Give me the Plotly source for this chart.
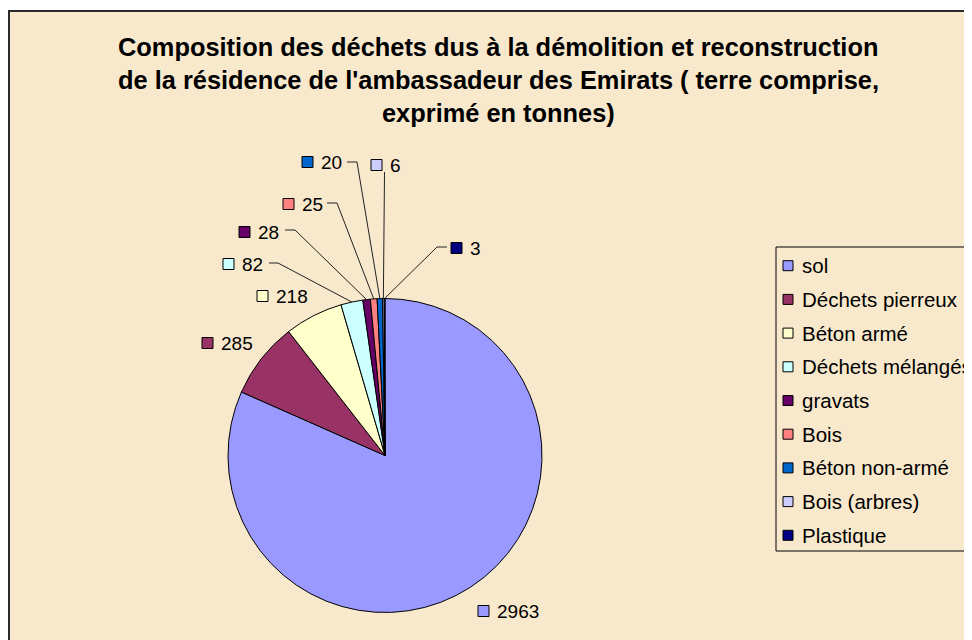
import math
import plotly.graph_objects as go

# ---- data ----
categories = ["sol", "Déchets pierreux", "Béton armé", "Déchets mélangés", "gravats",
              "Bois", "Béton non-armé", "Bois (arbres)", "Plastique"]
values = [2963, 285, 218, 82, 28, 25, 20, 6, 3]
colors = ["#9999FF", "#993366", "#FFFFCC", "#CCFFFF", "#660066",
          "#FF8080", "#0066CC", "#CCCCFF", "#000080"]
title_lines = ["Composition des déchets dus à la démolition et reconstruction",
               "de la résidence de l'ambassadeur des Emirats ( terre comprise,",
               "exprimé en tonnes)"]

# ---- layout constants (screen pixels; page body has an 8px margin) ----
W, H = 972, 640
OX, OY = 8, 8
CX, CY, R = 385, 455.5, 157
FONT = "Liberation Sans, Arial, sans-serif"
BG = "#F8E9CD"

# data-label placement (marker left x, centre y) and leader elbows
label_pos = [(478, 611), (202, 343), (257, 296), (223, 264), (239, 232),
             (283, 204), (302, 162), (371, 165), (451, 248)]
leader_elbows = {3: [(269, 263), (278, 263)],
                 4: [(285, 230), (295, 230)],
                 5: [(327, 203), (337, 203)],
                 6: [(347, 162), (357, 162)],
                 7: [(384.5, 172)],
                 8: [(447, 247), (437, 247)]}


def px(x):
    return (x - OX) / W


def py(y):
    return 1 - (y - OY) / H


fig = go.Figure()
fig.add_trace(go.Pie(
    labels=categories, values=values, sort=False, direction="clockwise", rotation=0,
    marker=dict(colors=colors, line=dict(color="black", width=1)),
    textinfo="none", showlegend=False, hoverinfo="label+value",
    domain=dict(x=[px(CX - R), px(CX + R)], y=[py(CY + R), py(CY - R)]),
))

shapes = []
annotations = []

# background frame
shapes.append(dict(type="rect", xref="paper", yref="paper", layer="below",
                   x0=px(9), x1=px(1000), y0=py(680), y1=py(11),
                   fillcolor=BG, line=dict(color="#2a2a2a", width=2)))

# title
for i, t in enumerate(title_lines):
    annotations.append(dict(text="<b>%s</b>" % t, x=px(498), y=py(47 + 33 * i),
                            xref="paper", yref="paper", xanchor="center", yanchor="middle",
                            showarrow=False, font=dict(family=FONT, size=25.4, color="black")))

# data labels + leader lines
total = float(sum(values))
cum = 0.0
for i, v in enumerate(values):
    theta = 2 * math.pi * (cum + v / 2.0) / total
    cum += v
    ex, ey = CX + R * math.sin(theta), CY - R * math.cos(theta)
    mx, my = label_pos[i]
    shapes.append(dict(type="rect", xref="paper", yref="paper",
                       x0=px(mx), x1=px(mx + 11), y0=py(my + 5.5), y1=py(my - 5.5),
                       fillcolor=colors[i], line=dict(color="black", width=1)))
    annotations.append(dict(text=str(v), x=px(mx + 17), y=py(my), xref="paper", yref="paper",
                            xanchor="left", yanchor="middle", showarrow=False,
                            font=dict(family=FONT, size=19, color="black")))
    if i in leader_elbows:
        pts = leader_elbows[i] + [(ex, ey)]
        for (x0, y0), (x1, y1) in zip(pts[:-1], pts[1:]):
            shapes.append(dict(type="line", xref="paper", yref="paper",
                               x0=px(x0), y0=py(y0), x1=px(x1), y1=py(y1),
                               line=dict(color="#222222", width=1)))

# legend
shapes.append(dict(type="rect", xref="paper", yref="paper",
                   x0=px(776), x1=px(1000), y0=py(551), y1=py(247),
                   fillcolor="rgba(0,0,0,0)", line=dict(color="black", width=1)))
for i, c in enumerate(categories):
    yc = 265.7 + 33.7 * i
    shapes.append(dict(type="rect", xref="paper", yref="paper",
                       x0=px(783), x1=px(793), y0=py(yc + 5), y1=py(yc - 5),
                       fillcolor=colors[i], line=dict(color="black", width=1)))
    annotations.append(dict(text=c, x=px(800), y=py(yc), xref="paper", yref="paper",
                            xanchor="left", yanchor="middle", showarrow=False,
                            font=dict(family=FONT, size=20.5, color="black")))

fig.update_layout(width=W, height=H, margin=dict(l=0, r=0, t=0, b=0),
                  paper_bgcolor="white", plot_bgcolor="white",
                  shapes=shapes, annotations=annotations, showlegend=False)

fig.write_html("out.html")
